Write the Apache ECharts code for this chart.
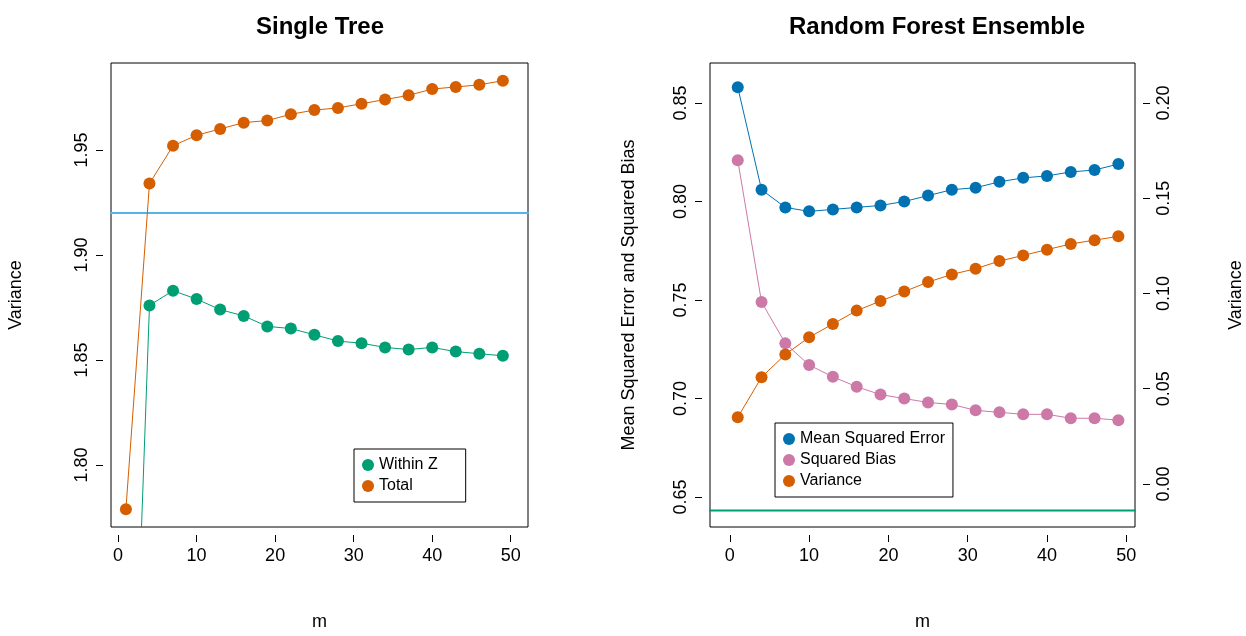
<!DOCTYPE html>
<html><head><meta charset="utf-8">
<script src="https://cdn.jsdelivr.net/npm/echarts@6/dist/echarts.min.js"></script>
<style>body{margin:0}#c{width:1246px;height:636px}</style>
</head><body><div id="c"></div>
<script>
var mVals = [1,4,7,10,13,16,19,22,25,28,31,34,37,40,43,46,49];
var treeWithin = [1.564,1.876,1.883,1.879,1.874,1.871,1.866,1.865,1.862,1.859,1.858,1.856,1.855,1.856,1.854,1.853,1.852];
var treeTotal = [1.779,1.934,1.952,1.957,1.960,1.963,1.964,1.967,1.969,1.970,1.972,1.974,1.976,1.979,1.980,1.981,1.983];
var treeRef = 1.92;
var rfMse = [0.858,0.806,0.797,0.795,0.796,0.797,0.798,0.800,0.803,0.806,0.807,0.810,0.812,0.813,0.815,0.816,0.819];
var rfBias = [0.821,0.749,0.728,0.717,0.711,0.706,0.702,0.700,0.698,0.697,0.694,0.693,0.692,0.692,0.690,0.690,0.689];
var rfVar = [0.035,0.056,0.068,0.077,0.084,0.091,0.096,0.101,0.106,0.110,0.113,0.117,0.120,0.123,0.126,0.128,0.130];
var rfRef = -0.014;

var green = '#009E73', orange = '#D55E00', blue = '#0072B2', pink = '#CC79A7', sky = '#56B4E9';
var F = 'Liberation Sans, Arial, sans-serif';
function pts(vals) { return mVals.map(function (m, i) { return [m, vals[i]]; }); }
function ser(name, vals, color, xi, yi) {
  return { name: name, type: 'line', data: pts(vals), xAxisIndex: xi, yAxisIndex: yi,
    symbol: 'circle', symbolSize: 12, itemStyle: { color: color }, lineStyle: { color: color, width: 1 }, animation: false };
}
function hline(v, color, xi, yi) {
  return { type: 'line', data: [[-10, v], [60, v]], xAxisIndex: xi, yAxisIndex: yi, symbol: 'none',
    lineStyle: { color: color, width: 2 }, animation: false, silent: true };
}
function xAx(gi, min, max) {
  return { type: 'value', gridIndex: gi, min: min, max: max, offset: 8,
    axisLine: { show: false, onZero: false },
    axisLabel: { color: '#000', fontSize: 18, fontFamily: F, margin: 12, customValues: [0,10,20,30,40,50] },
    axisTick: { show: true, customValues: [0,10,20,30,40,50], length: 7, lineStyle: { color: '#000' } },
    splitLine: { show: false }, name: 'm', nameLocation: 'middle', nameGap: 78,
    nameTextStyle: { color: '#000', fontSize: 18, fontFamily: F } };
}
function yAx(gi, min, max, ticks, name, pos, gap) {
  return { type: 'value', gridIndex: gi, min: min, max: max, position: pos, offset: 8,
    axisLine: { show: false, onZero: false }, splitLine: { show: false },
    axisTick: { show: true, customValues: ticks, length: 7, lineStyle: { color: '#000' } },
    axisLabel: { color: '#000', fontSize: 18, fontFamily: F, rotate: 90, margin: 12, customValues: ticks,
      formatter: function (v) { return v.toFixed(2); } },
    name: name, nameLocation: 'middle', nameGap: gap, nameRotate: 90,
    nameTextStyle: { color: '#000', fontSize: 18, fontFamily: F } };
}
var chart = echarts.init(document.getElementById('c'));
chart.setOption({
  backgroundColor: '#fff',
  title: [
    { text: 'Single Tree', left: 315, top: 10, textAlign: 'center', textStyle: { fontSize: 24, fontWeight: 'bold', color: '#000', fontFamily: F } },
    { text: 'Random Forest Ensemble', left: 932, top: 10, textAlign: 'center', textStyle: { fontSize: 24, fontWeight: 'bold', color: '#000', fontFamily: F } }
  ],
  grid: [
    { left: 111, width: 417, top: 63, height: 464, show: true, borderColor: '#000', borderWidth: 1 },
    { left: 710, width: 428, top: 63, height: 464, show: true, borderColor: '#000', borderWidth: 1 }
  ],
  xAxis: [xAx(0, -0.9, 52.2), xAx(1, -2.5, 51.1)],
  yAxis: [
    yAx(0, 1.7705, 1.9914, [1.80,1.85,1.90,1.95], 'Variance', 'left', 78),
    yAx(1, 0.6348, 0.8703, [0.65,0.70,0.75,0.80,0.85], 'Mean Squared Error and Squared Bias', 'left', 64),
    yAx(1, -0.0226, 0.221, [0.0,0.05,0.10,0.15,0.20], 'Variance', 'right', 84)
  ],
  legend: [
    { data: ['Within Z', 'Total'], orient: 'vertical', left: 354, top: 449, itemGap: 5,
      padding: [8, 28, 8, 8], borderColor: '#000', borderWidth: 1, icon: 'circle', itemWidth: 12, itemHeight: 12,
      textStyle: { fontSize: 16, fontFamily: F, color: '#000' } },
    { data: ['Mean Squared Error', 'Squared Bias', 'Variance'], orient: 'vertical', left: 775, top: 423, itemGap: 5,
      padding: [8, 8, 8, 8], borderColor: '#000', borderWidth: 1, icon: 'circle', itemWidth: 12, itemHeight: 12,
      textStyle: { fontSize: 16, fontFamily: F, color: '#000' } }
  ],
  series: [
    hline(treeRef, sky, 0, 0),
    ser('Within Z', treeWithin, green, 0, 0),
    ser('Total', treeTotal, orange, 0, 0),
    hline(rfRef, green, 1, 2),
    ser('Mean Squared Error', rfMse, blue, 1, 1),
    ser('Squared Bias', rfBias, pink, 1, 1),
    ser('Variance', rfVar, orange, 1, 2)
  ]
});
</script></body></html>
